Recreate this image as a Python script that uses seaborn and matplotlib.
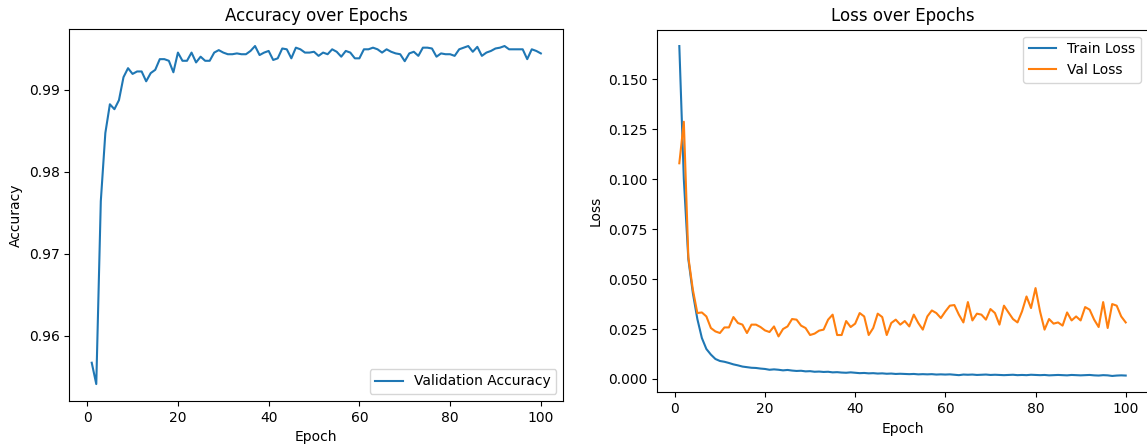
import matplotlib
matplotlib.use("Agg")
import matplotlib.pyplot as plt
import seaborn as sns

epochs = list(range(1, 101))

val_acc = [
    0.9567, 0.9541, 0.9764, 0.9847, 0.9882, 0.9876, 0.9887, 0.9915, 0.9926, 0.9919,
    0.9922, 0.9922, 0.9910, 0.9920, 0.9924, 0.9937, 0.9937, 0.9935, 0.9921, 0.9945,
    0.9935, 0.9935, 0.9945, 0.9933, 0.9940, 0.9935, 0.9935, 0.9945, 0.9948, 0.9945,
    0.9943, 0.9943, 0.9944, 0.9943, 0.9943, 0.9947, 0.9953, 0.9942, 0.9945, 0.9947,
    0.9936, 0.9938, 0.9950, 0.9949, 0.9938, 0.9951, 0.9949, 0.9945, 0.9945, 0.9946,
    0.9941, 0.9945, 0.9943, 0.9949, 0.9946, 0.9940, 0.9947, 0.9945, 0.9938, 0.9938,
    0.9949, 0.9949, 0.9951, 0.9949, 0.9945, 0.9949, 0.9946, 0.9944, 0.9943, 0.99345,
    0.9944, 0.9946, 0.9941, 0.9951, 0.9951, 0.9950, 0.9940, 0.9944, 0.9943, 0.9943,
    0.9941, 0.9949, 0.9951, 0.9953, 0.9946, 0.9952, 0.9941, 0.9945, 0.9947, 0.9950,
    0.9951, 0.9953, 0.9949, 0.9949, 0.9949, 0.9949, 0.9937, 0.9949, 0.9947, 0.9944,
]

train_loss = [
    0.1667, 0.1000, 0.0600, 0.0430, 0.0300, 0.0205, 0.0150, 0.0122, 0.0100, 0.0090,
    0.0086, 0.0080, 0.0073, 0.0068, 0.0062, 0.0059, 0.0056, 0.0055, 0.0052, 0.0050,
    0.0046, 0.0048, 0.0046, 0.0043, 0.0045, 0.0042, 0.0040, 0.0041, 0.0038, 0.0039,
    0.0036, 0.0037, 0.0035, 0.0036, 0.0033, 0.0034, 0.0032, 0.0031, 0.0033, 0.0031,
    0.0029, 0.0030, 0.0028, 0.0029, 0.0027, 0.0028, 0.0026, 0.0027, 0.0025, 0.0026,
    0.0025, 0.0024, 0.0025, 0.0023, 0.0024, 0.0023, 0.0024, 0.0022, 0.0023, 0.0022,
    0.0023, 0.0021, 0.0019, 0.0022, 0.0021, 0.0022, 0.0020, 0.0021, 0.0022, 0.0020,
    0.0021, 0.0020, 0.0019, 0.0020, 0.0021, 0.0019, 0.0020, 0.0019, 0.0021, 0.0020,
    0.0019, 0.0020, 0.0018, 0.0019, 0.0020, 0.0019, 0.0018, 0.0020, 0.0019, 0.0018,
    0.0019, 0.0020, 0.0018, 0.0017, 0.0019, 0.0018, 0.0015, 0.0017, 0.0018, 0.0017,
]

val_loss = [
    0.1080, 0.1288, 0.0610, 0.0447, 0.0330, 0.0333, 0.0313, 0.0255, 0.0238, 0.0230,
    0.0258, 0.0258, 0.0310, 0.0280, 0.0272, 0.0230, 0.0272, 0.0272, 0.0260, 0.0243,
    0.0235, 0.0263, 0.0213, 0.0250, 0.0263, 0.0300, 0.0297, 0.0267, 0.0255, 0.0220,
    0.0227, 0.0242, 0.0247, 0.0297, 0.0322, 0.0220, 0.0220, 0.0290, 0.0260, 0.0277,
    0.0330, 0.0313, 0.0220, 0.0255, 0.0327, 0.0310, 0.0220, 0.0280, 0.0297, 0.0272,
    0.0290, 0.0263, 0.0322, 0.0280, 0.0247, 0.0313, 0.0343, 0.0330, 0.0305, 0.0338,
    0.0367, 0.0370, 0.0322, 0.0283, 0.0385, 0.0293, 0.0327, 0.0322, 0.0297, 0.0350,
    0.0330, 0.0272, 0.0367, 0.0333, 0.0300, 0.0283, 0.0338, 0.0413, 0.0355, 0.0455,
    0.0338, 0.0247, 0.0300, 0.0277, 0.0283, 0.0267, 0.0333, 0.0293, 0.0313, 0.0293,
    0.0360, 0.0347, 0.0297, 0.0260, 0.0385, 0.0255, 0.0375, 0.0367, 0.0313, 0.0283,
]

fig = plt.figure(figsize=(11.47, 4.48), dpi=100)
ax1 = fig.add_axes([0.0604, 0.105, 0.4307, 0.830])
ax2 = fig.add_axes([0.5728, 0.124, 0.4281, 0.810])

# accuracy
sns.lineplot(x=epochs, y=val_acc, label='Validation Accuracy', color='tab:blue', ax=ax1)
ax1.set_title('Accuracy over Epochs')
ax1.set_xlabel('Epoch')
ax1.set_ylabel('Accuracy')
ax1.legend(loc='lower right')

# loss
sns.lineplot(x=epochs, y=train_loss, label='Train Loss', color='tab:blue', ax=ax2)
sns.lineplot(x=epochs, y=val_loss, label='Val Loss', color='tab:orange', ax=ax2)
ax2.set_title('Loss over Epochs')
ax2.set_xlabel('Epoch')
ax2.set_ylabel('Loss')
ax2.legend(loc='upper right')

fig.savefig('out.png', dpi=100)
